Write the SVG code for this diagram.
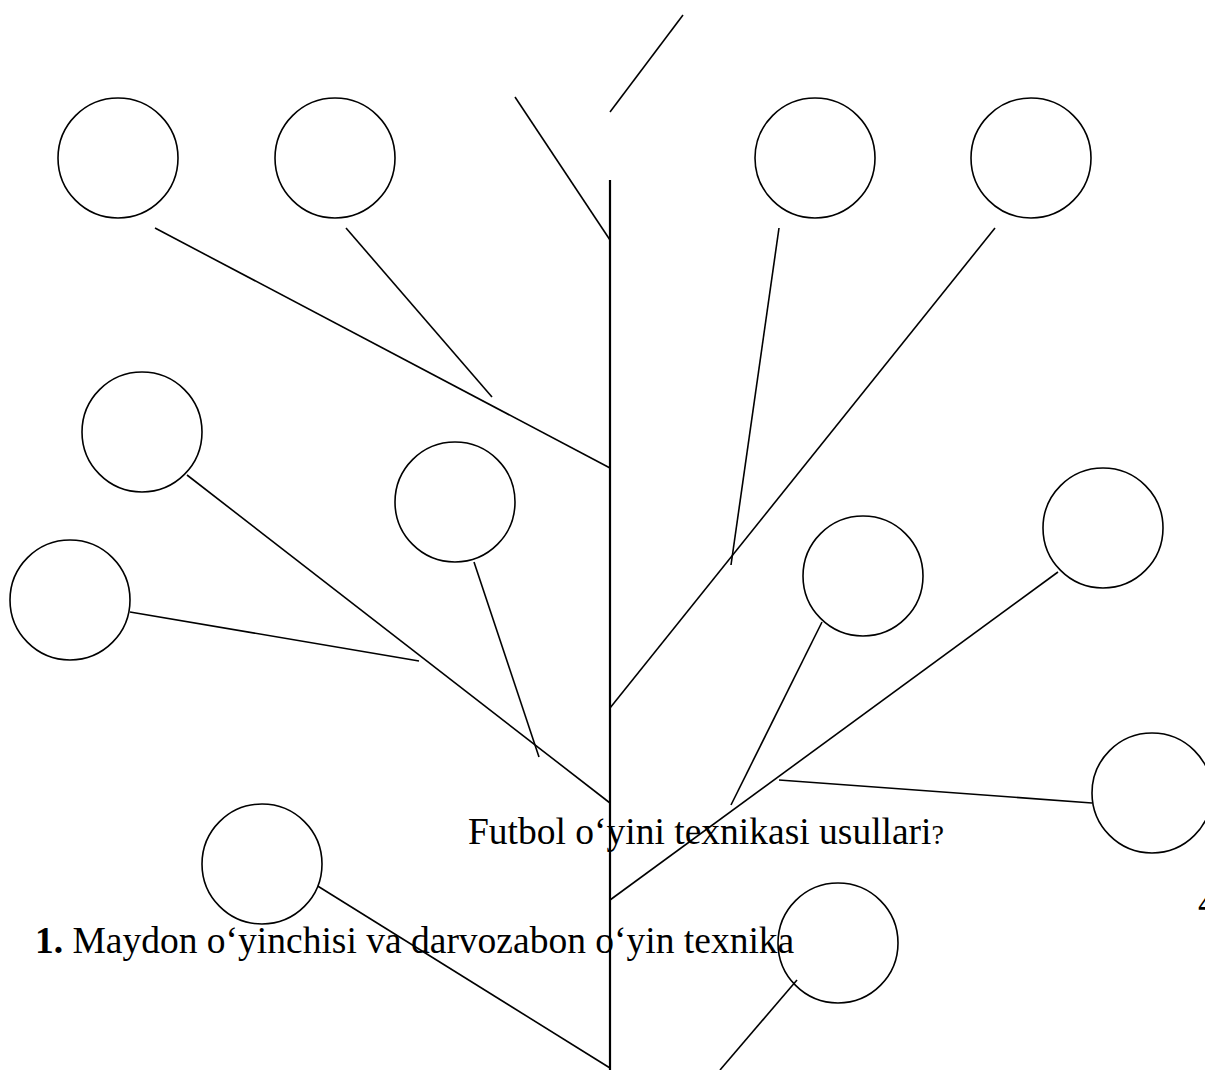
<svg xmlns="http://www.w3.org/2000/svg" width="1205" height="1070" viewBox="0 0 1205 1070">
<style>
.n{fill:#fff;stroke:#000;stroke-width:1.6}
.c line{stroke:#000;stroke-width:1.6}
.t{font-family:"Liberation Serif","Times New Roman",serif;font-size:37.5px;fill:#000}
</style>
<rect width="1205" height="1070" fill="#fff"/>
<g id="connectors" class="c">
<line x1="610" y1="180" x2="610" y2="1070" style="stroke-width:2.2"/>
<line x1="515" y1="97" x2="610" y2="240"/>
<line x1="610" y1="112" x2="683" y2="15"/>
<line x1="155" y1="228" x2="610" y2="468"/>
<line x1="346" y1="228" x2="492" y2="397"/>
<line x1="779" y1="228" x2="731" y2="565"/>
<line x1="995" y1="228" x2="610" y2="708"/>
<line x1="187" y1="475" x2="610" y2="803"/>
<line x1="130" y1="612" x2="419" y2="661"/>
<line x1="474" y1="562" x2="539" y2="757"/>
<line x1="822" y1="622" x2="731" y2="805"/>
<line x1="1058" y1="572" x2="610" y2="900"/>
<line x1="779" y1="780" x2="1092" y2="803"/>
<line x1="308" y1="880" x2="610" y2="1068"/>
<line x1="797" y1="980" x2="720" y2="1070"/>
</g>
<g id="n1"><circle class="n" cx="118" cy="158" r="60"/></g>
<g id="n2"><circle class="n" cx="335" cy="158" r="60"/></g>
<g id="n3"><circle class="n" cx="815" cy="158" r="60"/></g>
<g id="n4"><circle class="n" cx="1031" cy="158" r="60"/></g>
<g id="n5"><circle class="n" cx="142" cy="432" r="60"/></g>
<g id="n6"><circle class="n" cx="455" cy="502" r="60"/></g>
<g id="n7"><circle class="n" cx="70" cy="600" r="60"/></g>
<g id="n8"><circle class="n" cx="863" cy="576" r="60"/></g>
<g id="n9"><circle class="n" cx="1103" cy="528" r="60"/></g>
<g id="n10"><circle class="n" cx="1152" cy="793" r="60"/></g>
<g id="n11"><circle class="n" cx="262" cy="864" r="60"/></g>
<g id="n12"><circle class="n" cx="838" cy="943" r="60" style="fill:none"/></g>
<g id="labels">
<text class="t" x="468" y="844">Futbol o‘yini texnikasi usullari<tspan style="font-size:28px">?</tspan></text>
<text class="t" x="35" y="953"><tspan font-weight="bold">1.</tspan> Maydon o‘yinchisi va darvozabon o‘yin texnika</text>
<text class="t" x="1198" y="915">4</text>
</g>
</svg>
